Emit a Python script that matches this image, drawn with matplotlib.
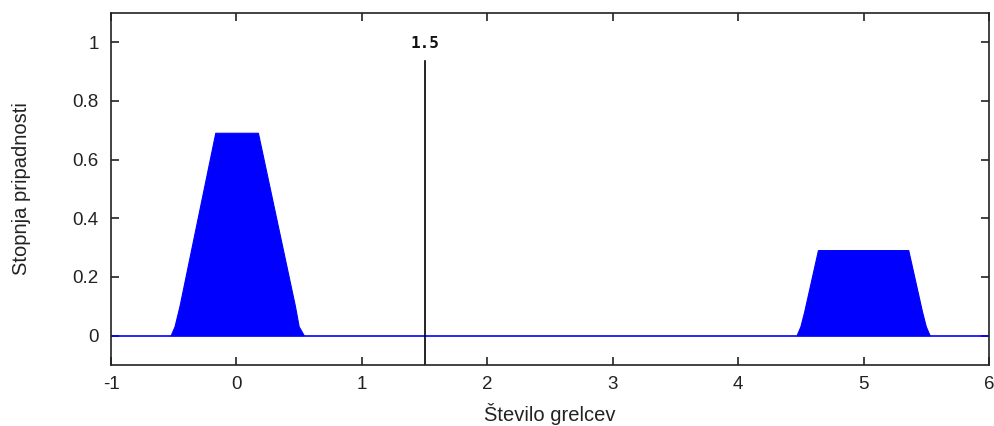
import matplotlib
matplotlib.use("Agg")
import matplotlib.pyplot as plt

# Membership areas (outline vertices)
left_x = [-0.52, -0.49, -0.45, -0.165, 0.175, 0.47, 0.50, 0.54]
left_y = [0.0, 0.03, 0.10, 0.69, 0.69, 0.10, 0.03, 0.0]
right_x = [4.47, 4.50, 4.53, 4.64, 5.36, 5.47, 5.50, 5.53]
right_y = [0.0, 0.03, 0.08, 0.29, 0.29, 0.08, 0.03, 0.0]

base_x = [-1, 6]
base_y = [0, 0]

marker_x = 1.5
marker_top = 0.935
marker_label = "1.5"

xticks = [-1, 0, 1, 2, 3, 4, 5, 6]
yticks = [0, 0.2, 0.4, 0.6, 0.8, 1]
ytick_labels = ["0", "0.2", "0.4", "0.6", "0.8", "1"]

plt.rcParams['font.family'] = ['Liberation Sans', 'DejaVu Sans']

fig = plt.figure(figsize=(9.95, 4.26), dpi=100)
ax = fig.add_axes([0.1116, 0.1432, 0.8824, 0.8263])

ax.fill(left_x, left_y, color='#0000ff', lw=0.8, ec='#0000ff')
ax.fill(right_x, right_y, color='#0000ff', lw=0.8, ec='#0000ff')
ax.plot(base_x, base_y, color='#0000ff', lw=1.2)

ax.plot([marker_x, marker_x], [-0.1, marker_top], color='black', lw=1.2)
ax.text(marker_x, 0.995, marker_label, family='DejaVu Sans Mono', fontsize=11.5,
        ha='center', va='center', color='#111111', fontweight='bold')

ax.set_xlim(-1, 6)
ax.set_ylim(-0.1, 1.1)
ax.set_xticks(xticks)
ax.set_xticklabels([str(t) for t in xticks])
ax.set_yticks(yticks)
ax.set_yticklabels(ytick_labels)
ax.tick_params(direction='in', top=True, right=True, length=6, width=1.2,
               labelsize=13.5, colors='#222222', pad=8)
ax.tick_params(axis='y', pad=9)
for s in ax.spines.values():
    s.set_linewidth(1.2)
    s.set_color('#222222')

ax.set_xlabel("Število grelcev", fontsize=14.5, labelpad=7, color='#222222')
ax.set_ylabel("Stopnja pripadnosti", fontsize=14.5, labelpad=30, color='#222222')

fig.savefig("out.png", dpi=100)
